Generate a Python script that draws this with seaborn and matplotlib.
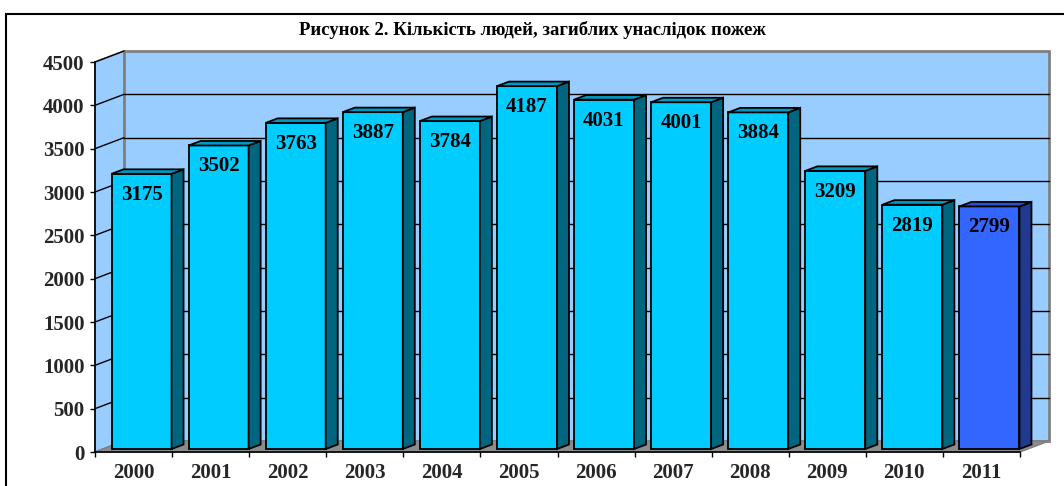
import matplotlib
matplotlib.use("Agg")
import matplotlib.pyplot as plt
from matplotlib.patches import Polygon, Rectangle
import seaborn as sns
import pandas as pd

years = ["2000", "2001", "2002", "2003", "2004", "2005", "2006", "2007", "2008", "2009", "2010", "2011"]
deaths = [3175, 3502, 3763, 3887, 3784, 4187, 4031, 4001, 3884, 3209, 2819, 2799]
title = "Рисунок 2. Кількість людей, загиблих унаслідок пожеж"
y_ticks = [0, 500, 1000, 1500, 2000, 2500, 3000, 3500, 4000, 4500]

front_col = "#00CCFF"
side_col = "#006680"
top_col = "#0099C4"
last_front = "#3366FF"
last_side = "#1F3A8F"
last_top = "#2A50CC"
wall_col = "#99CCFF"
floor_col = "#8C8C8C"

sns.set_theme(style="white")
plt.rcParams["font.family"] = ["Liberation Serif", "DejaVu Serif"]
plt.rcParams["font.weight"] = "bold"

W, H = 1064, 486
fig = plt.figure(figsize=(W / 100, H / 100), dpi=100)
fig.patch.set_facecolor("white")

# front plane of the plot area in pixels
L, R, T, B = 95, 1020, 62, 452
ax = fig.add_axes([L / W, (H - B) / H, (R - L) / W, (B - T) / H])
ax.set_facecolor("none")

n = len(years)
xmin, xmax = -0.5, n - 0.5
ymin, ymax = 0, 4500
px = (xmax - xmin) / (R - L)
py = (ymax - ymin) / (B - T)

# depth offsets in pixels
DX, DY = 29, 11          # full wall depth
BX, BY = 8, 3            # bar placement depth
SX, SY = 12, 4.5         # bar thickness

# walls and floor
left_wall = Polygon([(xmin, ymin), (xmin, ymax), (xmin + DX * px, ymax + DY * py), (xmin + DX * px, ymin + DY * py)],
                    closed=True, facecolor=wall_col, edgecolor="#808080", lw=1.2, zorder=0, clip_on=False)
back_wall = Polygon([(xmin + DX * px, ymin + DY * py), (xmin + DX * px, ymax + DY * py),
                     (xmax + DX * px, ymax + DY * py), (xmax + DX * px, ymin + DY * py)],
                    closed=True, facecolor=wall_col, edgecolor="#808080", lw=2, zorder=0, clip_on=False)
floor = Polygon([(xmin, ymin), (xmax, ymin), (xmax + DX * px, ymin + DY * py), (xmin + DX * px, ymin + DY * py)],
                closed=True, facecolor=floor_col, edgecolor="#808080", lw=1, zorder=0.2, clip_on=False)
for p in (left_wall, back_wall, floor):
    ax.add_patch(p)

# gridlines on back wall and left wall
for v in y_ticks[1:-1]:
    ax.plot([xmin + DX * px, xmax + DX * px], [v + DY * py, v + DY * py], color="black", lw=1, zorder=0.5, clip_on=False)
for v in y_ticks[1:]:
    ax.plot([xmin, xmin + DX * px], [v, v + DY * py], color="black", lw=1, zorder=0.5, clip_on=False)

df = pd.DataFrame({"year": years, "deaths": deaths})
palette = {y: (last_front if i == n - 1 else front_col) for i, y in enumerate(years)}
sns.barplot(data=df, x="year", y="deaths", hue="year", palette=palette, legend=False,
            width=60 / 77.08, saturation=1, ax=ax, edgecolor="black", linewidth=1.3, zorder=2)

bars = [p for p in ax.patches if isinstance(p, Rectangle) and p.get_height() > 0]
bars.sort(key=lambda p: p.get_x())
for i, p in enumerate(bars):
    p.set_x(p.get_x() + BX * px)
    p.set_y(BY * py)
    p.set_clip_on(False)
    x0, w, y0, h = p.get_x(), p.get_width(), p.get_y(), p.get_height()
    last = i == len(bars) - 1
    sc = last_side if last else side_col
    tc = last_top if last else top_col
    side = Polygon([(x0 + w, y0), (x0 + w, y0 + h), (x0 + w + SX * px, y0 + h + SY * py), (x0 + w + SX * px, y0 + SY * py)],
                   closed=True, facecolor=sc, edgecolor="black", lw=1.3, zorder=2, clip_on=False)
    top = Polygon([(x0, y0 + h), (x0 + w, y0 + h), (x0 + w + SX * px, y0 + h + SY * py), (x0 + SX * px, y0 + h + SY * py)],
                  closed=True, facecolor=tc, edgecolor="black", lw=1.3, zorder=2, clip_on=False)
    ax.add_patch(side)
    ax.add_patch(top)
    ax.text(x0 + w / 2, y0 + h - 21 * py, f"{int(round(h))}", ha="center", va="center",
            fontsize=15, fontweight="bold", color="black", zorder=3)

ax.set_xlim(xmin, xmax)
ax.set_ylim(ymin, ymax)
ax.set_xlabel("")
ax.set_ylabel("")
ax.set_yticks(y_ticks)
ax.set_yticklabels([str(v) for v in y_ticks])
ax.set_xticks(range(n))
ax.set_xticklabels(years)
ax.set_xticks([k - 0.5 for k in range(n + 1)], minor=True)
ax.tick_params(axis="y", which="major", direction="out", length=3.6, width=1, color="black",
               labelsize=15, pad=4, left=True)
ax.tick_params(axis="x", which="major", length=0, labelsize=15, pad=8, bottom=True)
ax.tick_params(axis="x", which="minor", direction="out", length=3.6, width=1, color="black", bottom=True)
for lab in ax.get_xticklabels() + ax.get_yticklabels():
    lab.set_fontweight("bold")
for s in ("top", "right"):
    ax.spines[s].set_visible(False)
for s in ("left", "bottom"):
    ax.spines[s].set_visible(True)
    ax.spines[s].set_color("black")
    ax.spines[s].set_linewidth(1.2)
    ax.spines[s].set_zorder(4)

# outer chart frame
frame = Rectangle((6 / W, -0.2), 1.2, 1 - 14 / H + 0.2, transform=fig.transFigure,
                  fill=False, edgecolor="black", lw=1.5, clip_on=False)
fig.patches.append(frame)

fig.text(532 / W, 1 - 30 / H, title, ha="center", va="center", fontsize=13.5, fontweight="bold",
         color="black")

fig.savefig("out.png", dpi=100)
